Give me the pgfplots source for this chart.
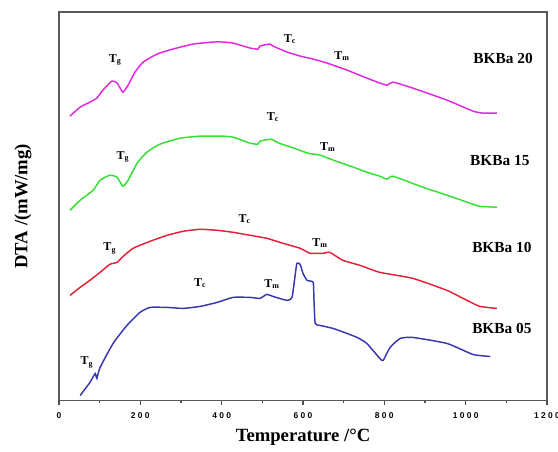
\documentclass[border=0pt]{standalone}
\usepackage{fontspec}
\setmainfont{Liberation Serif}
\newfontfamily\tickfont{Liberation Sans}
\usepackage{pgfplots}
\pgfplotsset{compat=1.18}
\usetikzlibrary{calc}
\definecolor{cmag}{RGB}{225,40,225}
\definecolor{cgreen}{RGB}{50,225,50}
\definecolor{cred}{RGB}{225,35,55}
\definecolor{cblue}{RGB}{55,55,175}

\begin{document}
\begin{tikzpicture}
\begin{axis}[
  scale only axis, width=366pt, height=291pt,
  xmin=0, xmax=1200, ymin=0, ymax=388,
  axis line style={draw=black!65, line width=0.9pt},
  xtick={0,200,...,1200},
  xticklabels={0,2 0 0,4 0 0,6 0 0,8 0 0,1 0 0 0,1 2 0 0},
  minor x tick num=1,
  xtick pos=bottom, tick align=outside,
  major tick length=3pt, minor tick length=1.5pt,
  every tick/.style={black!70, line width=0.8pt},
  ytick=\empty,
  xticklabel style={font=\tickfont\bfseries\fontsize{6.3}{7}\selectfont, anchor=center, yshift=-8pt},
  xlabel={Temperature /\textdegree C}, ylabel={DTA /(mW/mg)},
  label style={font=\bfseries\fontsize{14}{16}\selectfont},
  xlabel style={at={(axis description cs:0.5,-0.0954)}, anchor=center},
  ylabel style={at={(axis description cs:-0.0738,0.5)}, anchor=center},
  clip=false,
  every axis plot/.append style={line width=1.1pt, no markers, smooth, tension=0.3},
]
% BKBa 20
\addplot[cmag] coordinates {
 (27,284) (52,293) (76,298) (93,302) (108,310) (130,319) (143,317) (157,308)
 (170,315) (187,328) (207,338) (241,346) (280,351) (330,356) (379,358) (403,358)
 (428,357) (470,352) (489,351) (494,354) (519,356) (526,354) (561,348) (593,344)
 (625,341) (659,337) (708,330) (757,322) (789,317) (807,315) (821,318) (870,312)
 (954,300) (1018,289) (1043,287) (1077,287)
};
% BKBa 15
\addplot[cgreen] coordinates {
 (27,190) (52,200) (84,210) (101,220) (125,225) (143,223) (157,214) (170,220)
 (192,237) (216,248) (248,256) (298,262) (347,264) (403,264) (428,263) (470,257)
 (489,256) (494,259) (521,261) (541,257) (578,252) (612,247) (643,245) (675,240)
 (724,233) (757,228) (789,224) (807,221) (821,224) (895,213) (969,203) (1011,197)
 (1035,194) (1077,193)
};
% BKBa 10
\addplot[cred] coordinates {
 (27,105) (52,113) (76,120) (101,128) (125,136) (143,138) (155,143) (182,152)
 (224,159) (266,165) (305,169) (347,171) (389,170) (428,168) (470,165) (511,162)
 (551,157) (593,152) (617,147) (630,147) (649,147) (666,148) (698,140) (740,135)
 (789,128) (870,122) (954,110) (1003,100) (1035,94) (1077,92)
};
% BKBa 05
\addplot[cblue] coordinates {
 (52,5) (76,18) (89,27) (93,22) (101,33) (133,57) (167,75) (199,88) (224,93)
 (266,93) (305,92) (347,94) (389,98) (428,103) (470,103) (494,102) (511,106)
 (526,104) (561,100) (573,103) (580,123) (585,137) (593,136) (600,127) (610,120)
 (625,118) (627,100) (630,77) (642,75) (674,72) (708,67) (733,63) (757,57)
 (789,42) (797,40) (814,53) (839,62) (870,63) (954,57) (1018,46) (1060,44)
};

\begin{scope}[every node/.style={font=\bfseries\fontsize{9}{10}\selectfont, inner sep=0pt}]
\node at (axis cs:138,340) {T\textsubscript{g}};
\node at (axis cs:568,361) {T\textsubscript{c}};
\node at (axis cs:696,344) {T\textsubscript{m}};
\node at (axis cs:157,243) {T\textsubscript{g}};
\node at (axis cs:526,283) {T\textsubscript{c}};
\node at (axis cs:661,253) {T\textsubscript{m}};
\node at (axis cs:125,152) {T\textsubscript{g}};
\node at (axis cs:457,181) {T\textsubscript{c}};
\node at (axis cs:642,157) {T\textsubscript{m}};
\node at (axis cs:69,38) {T\textsubscript{g}};
\node at (axis cs:347,117) {T\textsubscript{c}};
\node at (axis cs:524,116) {T\textsubscript{m}};
\end{scope}
\begin{scope}[every node/.style={font=\bfseries\fontsize{11.5}{13}\selectfont, inner sep=0pt}]
\node at (axis cs:1092,342) {BKBa 20};
\node at (axis cs:1084,240) {BKBa 15};
\node at (axis cs:1089,153) {BKBa 10};
\node at (axis cs:1089,72) {BKBa 05};
\end{scope}
\end{axis}
\pgfresetboundingbox
\path[use as bounding box] ($(current axis.south west)+(-44.25pt,-38.25pt)$) rectangle ($(current axis.north east)+(8.25pt,9pt)$);
\end{tikzpicture}
\end{document}
